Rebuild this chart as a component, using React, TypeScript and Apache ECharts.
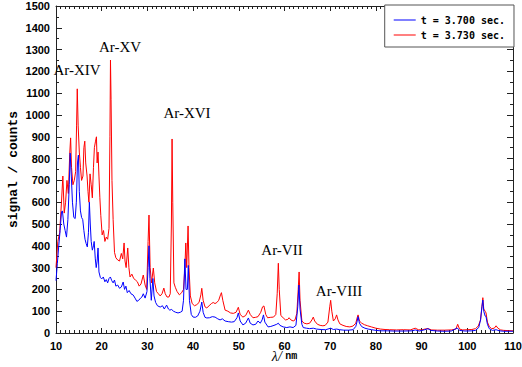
import React, { useEffect, useRef } from "react";
import * as echarts from "echarts";

const xTicks = [10, 20, 30, 40, 50, 60, 70, 80, 90, 100, 110];
const seriesNames = ["t = 3.700 sec.", "t = 3.730 sec."];

const redNm = [
  10.0, 10.4, 10.8, 11.2, 11.5, 11.8, 12.1, 12.4, 12.7, 13.0, 13.2, 13.4, 13.7, 14.0, 14.3, 14.5, 14.65, 14.85,
  15.1, 15.35, 15.6, 15.9, 16.1, 16.3, 16.5, 16.8, 17.0, 17.2, 17.45, 17.7, 17.95, 18.2, 18.4, 18.65, 18.85,
  19.0, 19.2, 19.4, 19.6, 19.8, 20.1, 20.4, 20.7, 21.0, 21.3, 21.6, 21.8, 21.92, 22.05, 22.25, 22.5, 22.8,
  23.1, 23.5, 23.9, 24.3, 24.6, 24.9, 25.1, 25.35, 25.7, 25.95, 26.2, 26.6, 27.0, 27.4, 27.8, 28.2, 28.6,
  29.1, 29.5, 29.85, 30.15, 30.35, 30.6, 30.9, 31.3, 31.6, 32.0, 32.4, 32.8, 33.2, 33.6, 33.9, 34.3, 34.7,
  35.0, 35.25, 35.4, 35.55, 35.8, 36.1, 36.5, 37.0, 37.5, 37.9, 38.2, 38.4, 38.6, 38.9, 39.1, 39.4, 39.8,
  40.3, 40.8, 41.3, 41.7, 41.9, 42.2, 42.6, 43.0, 43.5, 44.0, 44.4, 44.8, 45.2, 45.6, 46.0, 46.2, 46.5,
  47.0, 47.6, 48.2, 48.8, 49.4, 49.9, 50.3, 50.9, 51.5, 52.1, 52.5, 53.1, 53.7, 54.2, 54.8, 55.2, 55.5,
  55.9, 56.3, 57.0, 57.6, 58.1, 58.4, 58.65, 58.85, 59.2, 59.7, 60.2, 60.7, 61.0, 61.4, 61.9, 62.3, 62.7,
  63.0, 63.2, 63.4, 63.8, 64.3, 64.9, 65.5, 66.0, 66.3, 66.6, 67.2, 67.8, 68.4, 68.9, 69.5, 69.9, 70.1,
  70.35, 70.7, 71.1, 71.4, 71.7, 72.1, 72.8, 73.5, 74.3, 75.0, 75.6, 75.9, 76.1, 76.4, 76.9, 77.5, 78.2,
  79.0, 80.0, 81.0, 82.0, 83.0, 84.5, 86.0, 87.5, 88.6, 89.3, 90.0, 90.7, 91.4, 92.2, 93.5, 95.0, 96.5,
  97.5, 97.9, 98.3, 99.0, 100.0, 101.0, 101.8, 102.4, 102.9, 103.2, 103.4, 103.6, 103.9, 104.1, 104.4,
  104.8, 105.3, 105.9, 106.3, 106.7, 107.3, 108.0, 109.0, 110.0,
];
const redCounts = [
  300, 420, 460, 600, 720, 550, 600, 700, 640, 820, 895, 760, 680, 700, 740, 950, 1120, 950,
  830, 760, 700, 720, 850, 880, 780, 720, 650, 600, 730, 680, 620, 760, 850, 880, 900,
  780, 830, 720, 620, 540, 450, 470, 420, 440, 430, 480, 900, 1252, 1070, 700, 520, 370,
  345, 335, 330, 365, 340, 413, 330, 300, 390, 300, 257, 270, 250, 243, 235, 215, 225,
  266, 220, 200, 420, 541, 300, 230, 298, 230, 190, 180, 170, 180, 206, 180, 165, 165,
  180, 500, 890, 600, 230, 210, 190, 175, 185, 200, 300, 413, 300, 491, 300, 170, 135,
  125, 130, 140, 175, 205, 150, 120, 115, 125, 135, 140, 135, 140, 150, 175, 185, 150,
  105, 100, 92, 90, 95, 118, 85, 73, 80, 105, 85, 70, 72, 75, 95, 120, 124,
  85, 70, 72, 73, 85, 180, 320, 200, 80, 70, 60, 62, 70, 60, 55, 60, 90,
  200, 280, 150, 55, 45, 42, 45, 60, 73, 55, 40, 35, 33, 35, 50, 120, 150,
  100, 55, 65, 83, 60, 42, 35, 30, 28, 32, 45, 70, 83, 55, 45, 38, 33,
  28, 22, 18, 16, 15, 14, 15, 14, 22, 15, 14, 18, 20, 14, 13, 13, 14,
  18, 40, 18, 14, 15, 16, 20, 32, 60, 120, 162, 110, 100, 92, 50,
  30, 20, 22, 33, 22, 14, 12, 11, 10,
];

const blueNm = [
  10.0, 10.3, 10.6, 10.9, 11.2, 11.4, 11.7, 12.0, 12.3, 12.6, 12.9, 13.1, 13.35, 13.6, 13.9, 14.2, 14.45,
  14.7, 14.9, 15.1, 15.35, 15.6, 15.85, 16.1, 16.35, 16.6, 16.85, 17.1, 17.3, 17.5, 17.7, 17.95, 18.2,
  18.35, 18.6, 18.8, 19.0, 19.2, 19.4, 19.7, 20.0, 20.35, 20.7, 21.0, 21.3, 21.6, 21.9, 22.2, 22.5, 22.8,
  23.1, 23.5, 23.9, 24.3, 24.7, 25.0, 25.3, 25.6, 26.0, 26.4, 26.9, 27.3, 27.7, 28.1, 28.5, 28.8, 29.1,
  29.5, 29.9, 30.15, 30.35, 30.55, 30.85, 31.2, 31.45, 31.8, 32.2, 32.8, 33.3, 33.7, 34.2, 34.6, 34.9,
  35.3, 35.7, 36.2, 36.7, 37.2, 37.6, 37.9, 38.2, 38.45, 38.75, 38.95, 39.2, 39.6, 40.0, 40.5, 41.0,
  41.5, 41.9, 42.2, 42.6, 43.0, 43.6, 44.2, 44.8, 45.4, 45.9, 46.4, 47.0, 47.7, 48.4, 49.0, 49.6, 49.9,
  50.3, 50.9, 51.5, 52.1, 52.5, 53.1, 53.7, 54.2, 54.7, 55.1, 55.4, 55.7, 56.4, 57.0, 57.7, 58.3, 58.65,
  59.0, 59.7, 60.5, 61.2, 61.9, 62.5, 62.9, 63.15, 63.4, 63.8, 64.1, 64.8, 65.5, 66.3, 67.0, 68.0, 69.0,
  70.1, 70.7, 71.4, 72.1, 73.0, 74.0, 75.0, 75.6, 75.9, 76.1, 76.4, 76.9, 77.6, 78.3, 79.1, 80.0, 81.0,
  82.6, 84.0, 86.0, 88.0, 88.6, 89.5, 90.7, 91.4, 92.0, 93.5, 95.0, 96.5, 97.8, 98.3, 99.5, 101.0, 101.8,
  102.5, 102.9, 103.2, 103.4, 103.6, 103.9, 104.1, 104.4, 104.8, 105.5, 106.3, 107.0, 108.0, 109.0, 110.0,
];
const blueCounts = [
  240, 320, 400, 470, 555, 560, 500, 470, 440, 520, 680, 825, 720, 600, 530, 525, 600,
  780, 816, 650, 560, 530, 520, 470, 430, 410, 395, 460, 600, 500, 420, 380, 400,
  420, 340, 300, 330, 390, 280, 255, 248, 257, 235, 245, 230, 250, 257, 240, 230, 243,
  215, 220, 205, 211, 234, 200, 215, 185, 195, 180, 174, 160, 145, 150, 160, 165, 180,
  160, 190, 300, 400, 250, 150, 250, 170, 140, 125, 119, 125, 110, 128, 110, 105,
  108, 100, 95, 92, 95, 100, 150, 340, 200, 200, 310, 150, 85, 73, 72, 78,
  100, 142, 95, 72, 69, 70, 75, 73, 65, 60, 65, 55, 52, 50, 52, 70, 92,
  55, 37, 45, 69, 45, 37, 40, 55, 45, 60, 83, 50, 28, 30, 35, 40, 45,
  35, 28, 25, 28, 25, 35, 120, 220, 110, 40, 25, 22, 20, 22, 18, 16, 15,
  22, 16, 18, 15, 13, 13, 15, 30, 55, 75, 45, 29, 22, 18, 15, 12, 10,
  10, 9, 9, 10, 14, 9, 15, 20, 12, 9, 8, 9, 23, 12, 9, 10, 12,
  25, 60, 120, 151, 100, 78, 75, 40, 20, 12, 15, 10, 8, 8, 8,
];

const annotations = [
  { text: "Ar-XIV", x: 77, y: 70 },
  { text: "Ar-XV", x: 120, y: 47 },
  { text: "Ar-XVI", x: 187, y: 113 },
  { text: "Ar-VII", x: 282, y: 250 },
  { text: "Ar-VIII", x: 339, y: 291 },
];

export default function App() {
  const ref = useRef<HTMLDivElement>(null);
  useEffect(() => {
    if (!ref.current) return;
    const chart = echarts.init(ref.current, null, { renderer: "svg" });
    const blueData = blueNm.map((x, i) => [x, blueCounts[i]]);
    const redData = redNm.map((x, i) => [x, redCounts[i]]);
    const tickFont = { fontFamily: "Liberation Sans", fontWeight: "bold" as const, fontSize: 11, color: "#000" };
    const axisLineStyle = { color: "#222", width: 1 };
    const commonX = {
      type: "value" as const,
      min: 10,
      max: 110,
      interval: 10,
      splitLine: { show: false },
      axisLine: { show: true, onZero: false, lineStyle: axisLineStyle },
      axisTick: { show: true, inside: true, length: 5, lineStyle: { color: "#222" } },
      minorTick: { show: true, splitNumber: 10, length: 3, lineStyle: { color: "#222" } },
    };
    const commonY = {
      type: "value" as const,
      min: 0,
      max: 1500,
      interval: 100,
      splitLine: { show: false },
      axisLine: { show: true, onZero: false, lineStyle: axisLineStyle },
      axisTick: { show: true, inside: true, length: 6, lineStyle: { color: "#222" } },
      minorTick: { show: true, splitNumber: 2, length: 3, lineStyle: { color: "#222" } },
    };
    chart.setOption({
      animation: false,
      backgroundColor: "#fff",
      grid: { left: 56, right: 9, top: 6, bottom: 34, containLabel: false, outerBoundsMode: "none" },
      legend: {
        show: true,
        data: [
          { name: seriesNames[0], icon: "rect" },
          { name: seriesNames[1], icon: "rect" },
        ],
        orient: "vertical",
        right: 8,
        top: 5,
        padding: [9, 9, 6, 9],
        itemGap: 3,
        itemWidth: 22,
        itemHeight: 1,
        borderColor: "#555",
        borderWidth: 1,
        backgroundColor: "#fff",
        textStyle: { fontFamily: "DejaVu Sans Mono", fontSize: 10, fontWeight: "bold", color: "#000", lineHeight: 12 },
        z: 10,
      },
      xAxis: [
        {
          ...commonX,
          position: "bottom",
          name: "{a|λ/} {b|nm}",
          nameLocation: "middle",
          nameGap: 17,
          nameMoveOverlap: false,
          nameTextStyle: {
            lineHeight: 12,
            rich: {
              a: { fontFamily: "Liberation Serif", fontStyle: "italic", fontSize: 14, color: "#000", lineHeight: 12 },
              b: { fontFamily: "Liberation Mono", fontWeight: "bold", fontSize: 10, color: "#000", lineHeight: 12 },
            },
          },
          axisLabel: {
            ...tickFont,
            margin: 7,
            showMinLabel: true,
            showMaxLabel: true,
            formatter: (v: number) => (xTicks.includes(v) ? String(v) : ""),
          },
        },
        { ...commonX, position: "top", axisLabel: { show: false } },
      ],
      yAxis: [
        {
          ...commonY,
          position: "left",
          name: "signal / counts",
          nameLocation: "middle",
          nameGap: 36,
          nameMoveOverlap: false,
          nameTextStyle: { fontFamily: "Liberation Mono", fontWeight: "bold", fontSize: 13, color: "#000" },
          axisLabel: { ...tickFont, margin: 6, formatter: (v: number) => String(v) },
        },
        { ...commonY, position: "right", axisLabel: { show: false } },
      ],
      series: [
        {
          name: seriesNames[1],
          type: "line",
          data: redData,
          symbol: "none",
          lineStyle: { color: "#ff0000", width: 1 },
          itemStyle: { color: "#ff0000" },
          z: 2,
        },
        {
          name: seriesNames[0],
          type: "line",
          data: blueData,
          symbol: "none",
          lineStyle: { color: "#0000ff", width: 1 },
          itemStyle: { color: "#0000ff" },
          z: 3,
        },
      ],
      graphic: annotations.map((a) => ({
        type: "text",
        x: a.x,
        y: a.y,
        z: 20,
        style: {
          text: a.text,
          fill: "#000",
          font: "15px 'Liberation Serif'",
          align: "center",
          verticalAlign: "middle",
        },
      })),
    });
    return () => chart.dispose();
  }, []);
  return <div ref={ref} style={{ width: 522, height: 367, position: "absolute", left: 0, top: 0 }} />;
}
